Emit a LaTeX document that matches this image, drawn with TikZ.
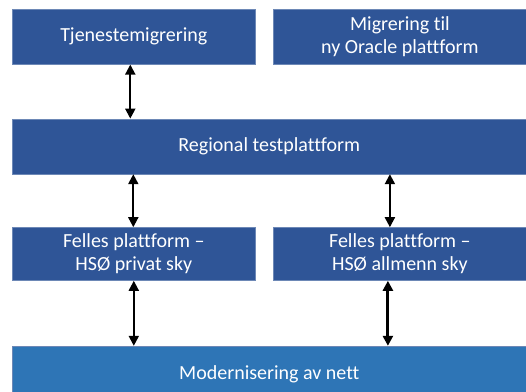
\documentclass[tikz,border=0pt]{standalone}
\usepackage{fontspec}
\setmainfont{Carlito}[Ligatures=NoCommon]
\usetikzlibrary{arrows.meta,positioning}
\definecolor{boxblue}{HTML}{2F5597}
\definecolor{netblue}{HTML}{2E75B6}

\begin{document}
\begin{tikzpicture}[x=1pt,y=1pt, node distance=17pt,
                    pil/.style={{Triangle[length=10pt,width=10pt]}-{Triangle[length=10pt,width=10pt]}, line width=2pt}]
  \tikzstyle{blokk}=[fill=boxblue, draw=boxblue!70!white, line width=0.6pt, text=white,
                     font=\fontsize{20}{23}\selectfont, align=center, inner sep=0pt,
                     minimum height=55pt]
  \useasboundingbox (0,0) rectangle (526,391);

  \node[blokk, minimum width=243pt, anchor=north west] (tjm) at (12,382) {Tjenestemigrering};
  \node[blokk, minimum width=254pt] (oracle) [right=of tjm] {Migrering til\\ny Oracle plattform};
  \node[blokk, minimum width=514pt] (reg) [below=54pt of tjm.south west, anchor=north west] {Regional testplattform};
  \node[blokk, minimum width=243pt, minimum height=53pt] (privat) [below=53pt of reg.south west, anchor=north west] {Felles plattform --\\HSØ privat sky};
  \node[blokk, minimum width=254pt, minimum height=53pt] (allmenn) [right=of privat] {Felles plattform --\\HSØ allmenn sky};
  \node[blokk, fill=netblue, minimum width=514pt, minimum height=56pt] (nett) [below=65pt of privat.south west, anchor=north west] {Modernisering av nett};

  \draw[pil] ([xshift=-3.5pt]tjm.south) -- ([xshift=-3.5pt]tjm.south |- reg.north);
  \draw[pil] ([xshift=-0.5pt]privat.north |- reg.south) -- ([xshift=-0.5pt]privat.north);
  \draw[pil] ([xshift=-10pt]allmenn.north |- reg.south) -- ([xshift=-10pt]allmenn.north);
  \draw[pil] (privat.south) -- (privat.south |- nett.north);
  \draw[pil, line width=3pt] ([xshift=-12pt]allmenn.south) -- ([xshift=-12pt]allmenn.south |- nett.north);
\end{tikzpicture}
\end{document}
